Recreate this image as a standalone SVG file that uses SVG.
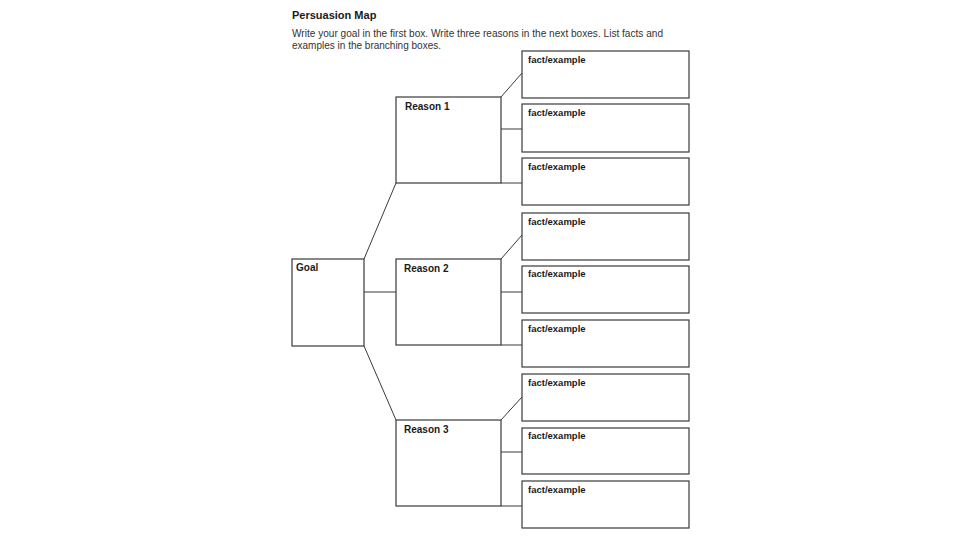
<svg xmlns="http://www.w3.org/2000/svg" width="960" height="540" viewBox="0 0 960 540">
<style>
.box{fill:#fff;stroke:#3a3a3a;stroke-width:1.2}
.lbl{font-family:"Liberation Sans",Arial,sans-serif;font-size:10px;font-weight:bold;fill:#1a1a1a}
.fact{font-family:"Liberation Sans",Arial,sans-serif;font-size:9.5px;font-weight:bold;fill:#1a1a1a}
.conn line{stroke:#3a3a3a;stroke-width:1}
.txt{font-family:"Liberation Sans",Arial,sans-serif;font-size:10px;fill:#333}
</style>
<rect width="960" height="540" fill="#fff"/>
<text x="292" y="19" class="lbl" style="font-size:11px">Persuasion Map</text>
<text x="292" y="37" class="txt" textLength="371" lengthAdjust="spacingAndGlyphs">Write your goal in the first box. Write three reasons in the next boxes. List facts and</text>
<text x="292" y="49" class="txt">examples in the branching boxes.</text>
<g class="conn">
<line x1="364" y1="259" x2="396" y2="183"/>
<line x1="364" y1="292" x2="396" y2="292"/>
<line x1="364" y1="346" x2="396" y2="420"/>
<line x1="501" y1="97" x2="522" y2="73"/>
<line x1="501" y1="129" x2="522" y2="129"/>
<line x1="501" y1="183" x2="522" y2="183"/>
<line x1="501" y1="259" x2="522" y2="235"/>
<line x1="501" y1="292" x2="522" y2="292"/>
<line x1="501" y1="345" x2="522" y2="345"/>
<line x1="501" y1="420" x2="522" y2="397"/>
<line x1="501" y1="452" x2="522" y2="452"/>
<line x1="501" y1="506" x2="522" y2="506"/>
</g>
<g id="goal"><rect class="box" x="292" y="259" width="72" height="87"/><text class="lbl" x="296" y="271">Goal</text></g>
<g id="reason1"><rect class="box" x="396" y="97" width="105" height="86"/><text class="lbl" x="405" y="110">Reason 1</text></g>
<g id="reason2"><rect class="box" x="396" y="259" width="105" height="86"/><text class="lbl" x="404" y="272">Reason 2</text></g>
<g id="reason3"><rect class="box" x="396" y="420" width="105" height="86"/><text class="lbl" x="404" y="433">Reason 3</text></g>
<g id="fact1"><rect class="box" x="522" y="51" width="167" height="47"/><text class="fact" x="528" y="63">fact/example</text></g>
<g id="fact2"><rect class="box" x="522" y="104" width="167" height="48"/><text class="fact" x="528" y="116">fact/example</text></g>
<g id="fact3"><rect class="box" x="522" y="158" width="167" height="47"/><text class="fact" x="528" y="170">fact/example</text></g>
<g id="fact4"><rect class="box" x="522" y="213" width="167" height="47"/><text class="fact" x="528" y="225">fact/example</text></g>
<g id="fact5"><rect class="box" x="522" y="266" width="167" height="47"/><text class="fact" x="528" y="277">fact/example</text></g>
<g id="fact6"><rect class="box" x="522" y="320" width="167" height="47"/><text class="fact" x="528" y="332">fact/example</text></g>
<g id="fact7"><rect class="box" x="522" y="374" width="167" height="47"/><text class="fact" x="528" y="386">fact/example</text></g>
<g id="fact8"><rect class="box" x="522" y="428" width="167" height="46"/><text class="fact" x="528" y="439">fact/example</text></g>
<g id="fact9"><rect class="box" x="522" y="481" width="167" height="47"/><text class="fact" x="528" y="493">fact/example</text></g>
</svg>
